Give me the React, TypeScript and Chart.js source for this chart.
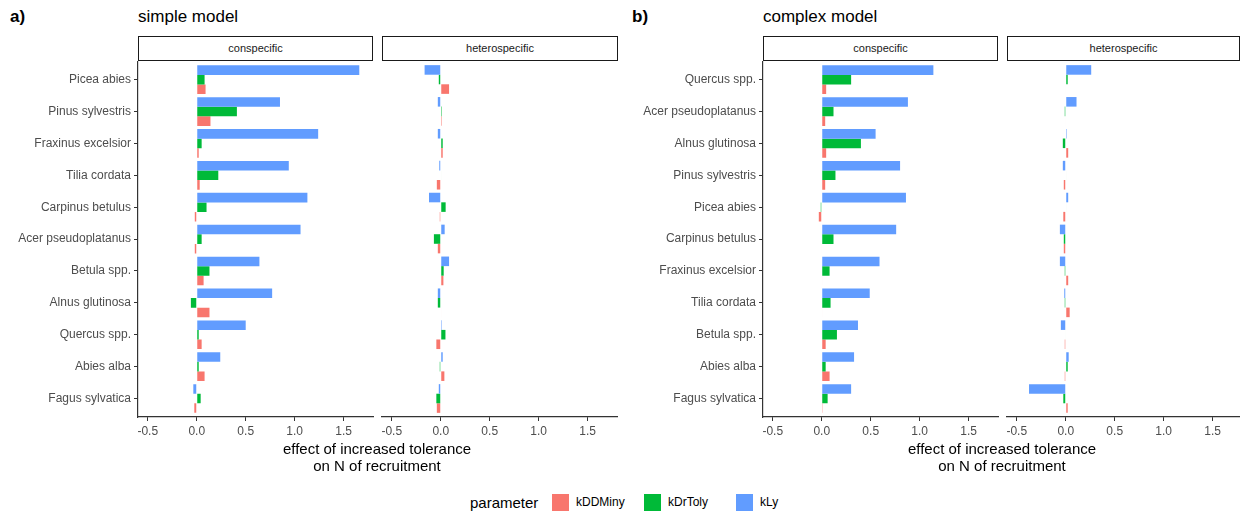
import React, { useEffect, useRef } from "react";
import { Chart, registerables } from "chart.js";

Chart.register(...registerables);

const FONT = "'Liberation Sans', Arial, Helvetica, sans-serif";

// ---- data ----
const speciesSimple = [
  "Picea abies", "Pinus sylvestris", "Fraxinus excelsior", "Tilia cordata", "Carpinus betulus",
  "Acer pseudoplatanus", "Betula spp.", "Alnus glutinosa", "Quercus spp.", "Abies alba", "Fagus sylvatica",
];
const speciesComplex = [
  "Quercus spp.", "Acer pseudoplatanus", "Alnus glutinosa", "Pinus sylvestris", "Picea abies",
  "Carpinus betulus", "Fraxinus excelsior", "Tilia cordata", "Betula spp.", "Abies alba", "Fagus sylvatica",
];

const simpleConKLy = [1.66, 0.85, 1.24, 0.94, 1.13, 1.06, 0.64, 0.77, 0.5, 0.24, -0.035];
const simpleConKDrToly = [0.08, 0.41, 0.05, 0.22, 0.1, 0.05, 0.13, -0.06, 0.02, 0.02, 0.04];
const simpleConKDDMiny = [0.09, 0.14, 0.02, 0.03, -0.02, -0.02, 0.07, 0.13, 0.05, 0.08, -0.025];

const simpleHetKLy = [-0.165, -0.03, -0.03, -0.015, -0.12, 0.04, 0.085, -0.03, 0.01, 0.02, -0.02];
const simpleHetKDrToly = [-0.02, 0.01, 0.02, 0.005, 0.05, -0.07, 0.03, -0.03, 0.048, -0.01, -0.045];
const simpleHetKDDMiny = [0.085, 0.01, 0.02, -0.04, -0.01, -0.03, 0.027, 0.005, -0.045, 0.037, -0.04];

const complexConKLy = [1.14, 0.88, 0.55, 0.8, 0.86, 0.76, 0.59, 0.49, 0.37, 0.33, 0.3];
const complexConKDrToly = [0.3, 0.12, 0.4, 0.14, -0.01, 0.12, 0.08, 0.09, 0.155, 0.04, 0.06];
const complexConKDDMiny = [0.045, 0.035, 0.045, 0.035, -0.03, -0.005, 0.005, 0.005, 0.04, 0.08, 0.008];

const complexHetKLy = [0.26, 0.11, 0.01, -0.03, 0.025, -0.06, -0.06, -0.015, -0.05, 0.03, -0.375];
const complexHetKDrToly = [0.02, -0.01, -0.03, 0.005, 0.005, -0.02, -0.01, -0.01, -0.005, 0.02, -0.025];
const complexHetKDDMiny = [-0.005, -0.005, 0.025, -0.02, -0.025, -0.02, 0.025, 0.04, -0.01, -0.01, 0.02];

const xTicks = [-0.5, 0, 0.5, 1, 1.5];
const parameters = ["kDDMiny", "kDrToly", "kLy"];
const paramColors = ["#F8766D", "#00BA38", "#619CFF"];

// ---- layout constants ----
const AREA_TOP = 61;
const AREA_BOTTOM = 417;
const X_AXIS_H = 30;
const PAD_TOP = 10;

type PanelProps = {
  areaLeft: number;
  areaRight: number;
  showY: boolean;
  species: string[];
  kLy: number[];
  kDrToly: number[];
  kDDMiny: number[];
};

function Panel({ areaLeft, areaRight, showY, species, kLy, kDrToly, kDDMiny }: PanelProps) {
  const ref = useRef<HTMLCanvasElement>(null);
  const yW = 138;
  const padL = showY ? 0 : 10;
  const canvasLeft = showY ? areaLeft - yW : areaLeft - padL;
  const canvasWidth = areaRight + 2 - canvasLeft;
  const canvasTop = AREA_TOP - PAD_TOP;
  const canvasHeight = AREA_BOTTOM - canvasTop + X_AXIS_H;

  useEffect(() => {
    if (!ref.current) return;
    const mk = (vals: number[]) => vals.map((v, i) => ({ x: v, y: i }));
    const axisColor = "#333333";
    const chart = new Chart(ref.current, {
      type: "bar",
      data: {
        datasets: [
          { label: parameters[2], data: mk(kLy), backgroundColor: paramColors[2] },
          { label: parameters[1], data: mk(kDrToly), backgroundColor: paramColors[1] },
          { label: parameters[0], data: mk(kDDMiny), backgroundColor: paramColors[0] },
        ],
      },
      options: {
        indexAxis: "y",
        animation: false,
        responsive: false,
        maintainAspectRatio: false,
        layout: { padding: { left: padL, right: 2, top: PAD_TOP, bottom: 0 } },
        plugins: { legend: { display: false }, tooltip: { enabled: false } },
        datasets: { bar: { categoryPercentage: 0.9, barPercentage: 1.0 } },
        scales: {
          x: {
            type: "linear",
            min: -0.6,
            max: 1.8,
            offset: false,
            afterBuildTicks: (s: any) => {
              s.ticks = xTicks.map((v) => ({ value: v }));
            },
            afterFit: (s: any) => {
              s.height = X_AXIS_H;
            },
            ticks: {
              callback: (v: any) => Number(v).toFixed(1),
              color: "#4D4D4D",
              font: { size: 12, family: FONT },
              padding: 3,
              maxRotation: 0,
              autoSkip: false,
            },
            grid: { drawOnChartArea: false, drawTicks: true, tickLength: 4, color: axisColor, lineWidth: 1, offset: false },
            border: { display: true, color: axisColor, width: 1.2 },
          },
          y: {
            type: "linear",
            reverse: true,
            min: -0.58,
            max: 10.58,
            offset: false,
            display: showY,
            afterBuildTicks: (s: any) => {
              s.ticks = species.map((_, i) => ({ value: i }));
            },
            afterFit: (s: any) => {
              if (showY) s.width = yW;
            },
            ticks: {
              callback: (v: any) => species[Math.round(Number(v))] ?? "",
              color: "#4D4D4D",
              font: { size: 12, family: FONT },
              padding: 3,
              autoSkip: false,
            },
            grid: { drawOnChartArea: false, drawTicks: true, tickLength: 4, color: axisColor, lineWidth: 1, offset: false },
            border: { display: true, color: axisColor, width: 1.2 },
          },
        },
      } as any,
    });
    return () => chart.destroy();
  }, []);

  return (
    <canvas
      ref={ref}
      width={canvasWidth}
      height={canvasHeight}
      style={{ position: "absolute", left: canvasLeft, top: canvasTop, width: canvasWidth, height: canvasHeight }}
    />
  );
}

function Strip({ left, right, text }: { left: number; right: number; text: string }) {
  return (
    <div
      style={{
        position: "absolute",
        left,
        top: 36,
        width: right - left,
        height: 25,
        border: "1.3px solid #1A1A1A",
        boxSizing: "border-box",
        textAlign: "center",
        fontSize: 11,
        lineHeight: "22px",
        color: "#1A1A1A",
        fontFamily: FONT,
      }}
    >
      {text}
    </div>
  );
}

const txt = (extra: React.CSSProperties): React.CSSProperties => ({
  position: "absolute",
  fontFamily: FONT,
  whiteSpace: "nowrap",
  ...extra,
});

export default function App() {
  return (
    <div
      style={{
        position: "fixed",
        left: 0,
        top: 0,
        width: 1240,
        height: 513,
        background: "#ffffff",
        overflow: "hidden",
      }}
    >
      <div style={txt({ left: 10, top: 7, fontSize: 17, fontWeight: "bold", color: "#000" })}>a)</div>
      <div style={txt({ left: 138, top: 7, fontSize: 17, color: "#000" })}>simple model</div>
      <div style={txt({ left: 632, top: 7, fontSize: 17, fontWeight: "bold", color: "#000" })}>b)</div>
      <div style={txt({ left: 763, top: 7, fontSize: 17, color: "#000" })}>complex model</div>

      <Strip left={138} right={373} text="conspecific" />
      <Strip left={382} right={618} text="heterospecific" />
      <Strip left={763} right={998} text="conspecific" />
      <Strip left={1007} right={1240} text="heterospecific" />

      <Panel areaLeft={138} areaRight={373} showY={true} species={speciesSimple}
        kLy={simpleConKLy} kDrToly={simpleConKDrToly} kDDMiny={simpleConKDDMiny} />
      <Panel areaLeft={382} areaRight={617} showY={false} species={speciesSimple}
        kLy={simpleHetKLy} kDrToly={simpleHetKDrToly} kDDMiny={simpleHetKDDMiny} />
      <Panel areaLeft={763} areaRight={998} showY={true} species={speciesComplex}
        kLy={complexConKLy} kDrToly={complexConKDrToly} kDDMiny={complexConKDDMiny} />
      <Panel areaLeft={1007} areaRight={1242} showY={false} species={speciesComplex}
        kLy={complexHetKLy} kDrToly={complexHetKDrToly} kDDMiny={complexHetKDDMiny} />

      <div style={txt({ left: 177, width: 400, top: 440, fontSize: 15, lineHeight: "17px", textAlign: "center", color: "#000" })}>
        effect of increased tolerance
        <br />
        on N of recruitment
      </div>
      <div style={txt({ left: 802, width: 400, top: 440, fontSize: 15, lineHeight: "17px", textAlign: "center", color: "#000" })}>
        effect of increased tolerance
        <br />
        on N of recruitment
      </div>

      <div style={txt({ left: 470, top: 494, fontSize: 15, lineHeight: "18px", color: "#000" })}>parameter</div>
      {parameters.map((p, i) => (
        <React.Fragment key={p}>
          <div style={{ position: "absolute", left: 552 + i * 92, top: 494, width: 17, height: 17, background: paramColors[i] }} />
          <div style={txt({ left: 576 + i * 92, top: 495, fontSize: 12, lineHeight: "15px", color: "#000" })}>{p}</div>
        </React.Fragment>
      ))}
    </div>
  );
}
